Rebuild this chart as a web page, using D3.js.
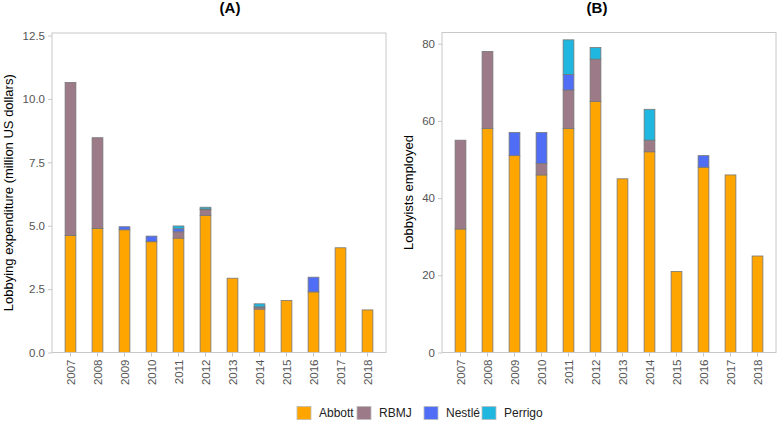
<!DOCTYPE html>
<html>
<head>
<meta charset="utf-8">
<script src="https://cdn.jsdelivr.net/npm/d3@7/dist/d3.min.js"></script>
<style>
  html, body { margin: 0; padding: 0; background: #fff; }
  svg { display: block; font-family: "Liberation Sans", Arial, sans-serif; }
</style>
</head>
<body>
<svg id="chart" width="778" height="424"></svg>
<script>
const years = ["2007","2008","2009","2010","2011","2012","2013","2014","2015","2016","2017","2018"];
const companies = ["Abbott","RBMJ","Nestlé","Perrigo"];
const colors = ["#FFA500","#9C7A88","#4F6EF5","#1FB7DF"];

// Panel A: lobbying expenditure (million US dollars)
const expAbbott  = [4.61, 4.89, 4.84, 4.37, 4.51, 5.41, 2.93, 1.71, 2.05, 2.39, 4.13, 1.68];
const expRBMJ    = [6.04, 3.58, 0,    0,    0.25, 0.22, 0,    0.06, 0,    0,    0,    0];
const expNestle  = [0,    0,    0.12, 0.22, 0.12, 0.03, 0,    0.03, 0,    0.58, 0,    0];
const expPerrigo = [0,    0,    0,    0,    0.11, 0.07, 0,    0.12, 0,    0,    0,    0];
const expTicks = [0, 2.5, 5, 7.5, 10, 12.5];

// Panel B: lobbyists employed
const empAbbott  = [32, 58, 51, 46, 58, 65, 45, 52, 21, 48, 46, 25];
const empRBMJ    = [23, 20, 0,  3,  10, 11, 0,  3,  0,  0,  0,  0];
const empNestle  = [0,  0,  6,  8,  4,  0,  0,  0,  0,  3,  0,  0];
const empPerrigo = [0,  0,  0,  0,  9,  3,  0,  8,  0,  0,  0,  0];
const empTicks = [0, 20, 40, 60, 80];

const svg = d3.select("#chart");

function buildRows(series) {
  return years.map((y, i) => {
    const r = { year: y };
    companies.forEach((c, k) => r[c] = series[k][i]);
    return r;
  });
}

function panel(opts) {
  const { x0, x1, y0, y1, ymax, ticks, fmt, series, title, titleX, ylabel, ylabelX } = opts;
  const g = svg.append("g");
  const x = d3.scaleBand().domain(years).range([x0, x1]).paddingInner(0).paddingOuter(0.185);
  const y = d3.scaleLinear().domain([0, ymax]).range([y1, y0]);
  const rows = buildRows(series);
  const stack = d3.stack().keys(companies)(rows);
  const bw = x.bandwidth() * 0.4;

  g.selectAll("g.layer").data(stack).join("g")
    .attr("fill", (d, i) => colors[i])
    .selectAll("rect").data(d => d.filter(s => s[1] - s[0] > 0)).join("rect")
    .attr("x", d => x(d.data.year) + x.bandwidth() / 2 - bw / 2)
    .attr("width", bw)
    .attr("y", d => y(d[1]))
    .attr("height", d => y(d[0]) - y(d[1]))
    .attr("stroke", "#777")
    .attr("stroke-width", 0.8);

  // panel border
  g.append("rect").attr("x", x0).attr("y", y0).attr("width", x1 - x0).attr("height", y1 - y0)
    .attr("fill", "none").attr("stroke", "#c8c8c8").attr("stroke-width", 1);

  // y axis
  const ya = g.append("g").attr("transform", `translate(${x0},0)`)
    .call(d3.axisLeft(y).tickValues(ticks).tickFormat(fmt).tickSize(4).tickPadding(3));
  ya.select(".domain").remove();
  ya.selectAll("line").attr("stroke", "#c8c8c8");
  ya.selectAll("text").attr("fill", "#555").style("font-size", "11.5px");

  // x axis
  const xa = g.append("g").attr("transform", `translate(0,${y1})`)
    .call(d3.axisBottom(x).tickSize(4).tickPadding(3));
  xa.select(".domain").remove();
  xa.selectAll("line").attr("stroke", "#c8c8c8");
  xa.selectAll("text").attr("fill", "#555").style("font-size", "11.5px")
    .attr("transform", "rotate(-90)")
    .attr("text-anchor", "end")
    .attr("dy", "0.35em")
    .attr("x", -7)
    .attr("y", 0);

  // title
  g.append("text").attr("x", titleX).attr("y", 13).attr("text-anchor", "middle")
    .style("font-size", "15px").style("font-weight", "bold").attr("fill", "#000").text(title);

  // y label
  g.append("text").attr("transform", `translate(${ylabelX},${(y0 + y1) / 2}) rotate(-90)`)
    .attr("text-anchor", "middle").style("font-size", "13px").attr("fill", "#000").text(ylabel);
}

panel({
  x0: 52, x1: 386, y0: 33, y1: 352.5, ymax: 12.6, ticks: expTicks,
  fmt: d3.format(".1f"),
  series: [expAbbott, expRBMJ, expNestle, expPerrigo],
  title: "(A)", titleX: 230, ylabel: "Lobbying expenditure (million US dollars)", ylabelX: 13
});

panel({
  x0: 442, x1: 776, y0: 32.5, y1: 352.5, ymax: 82.9, ticks: empTicks,
  fmt: d3.format("d"),
  series: [empAbbott, empRBMJ, empNestle, empPerrigo],
  title: "(B)", titleX: 597, ylabel: "Lobbyists employed", ylabelX: 413
});

// legend
const legendX = [297, 357, 424, 482];
const lg = svg.append("g");
companies.forEach((c, i) => {
  lg.append("rect").attr("x", legendX[i]).attr("y", 406.5).attr("width", 14).attr("height", 13)
    .attr("fill", colors[i]).attr("stroke", "#bbb").attr("stroke-width", 0.8);
  lg.append("text").attr("x", legendX[i] + 22).attr("y", 417).style("font-size", "12px")
    .attr("fill", "#222").text(c);
});
</script>
</body>
</html>
